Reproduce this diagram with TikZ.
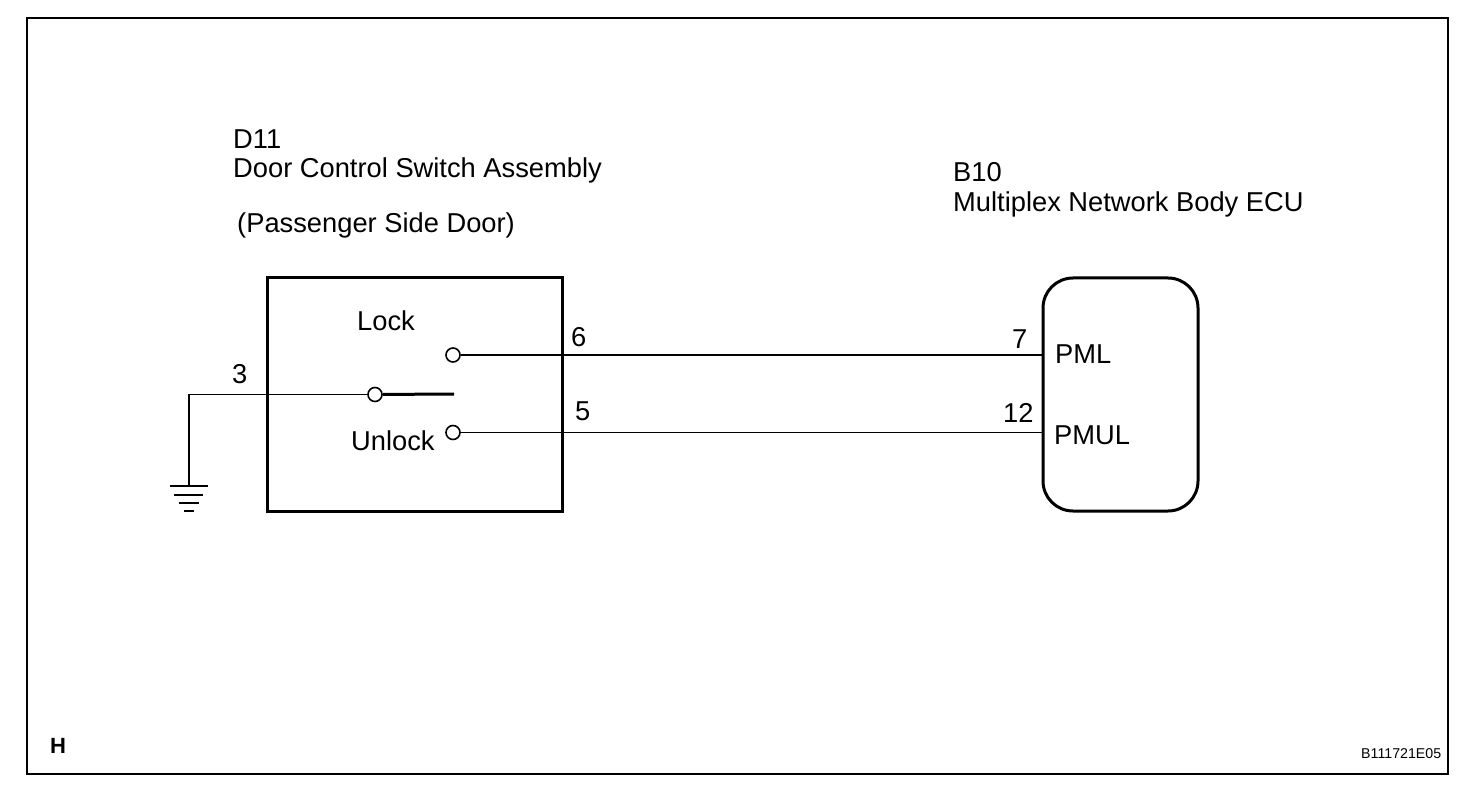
\documentclass[tikz,border=0pt]{standalone}
\usepackage{fontspec}
\setmainfont{Liberation Sans}
\tikzset{
  label/.style={anchor=base west,inner sep=0pt,font=\fontsize{27.3}{27.3}\selectfont},
  contact/.style={shape=circle,draw,fill=white,line width=1.6pt,inner sep=0pt,minimum size=14pt},
  wire/.style={line width=1.2pt},
  heavywire/.style={line width=2.2pt}
}
\begin{document}
\begin{tikzpicture}[x=1pt,y=-1pt]
\useasboundingbox (0,0) rectangle (1472,794);
\node(frame) at (737.5,396)[draw,line width=2.4pt,minimum width=1421pt,minimum height=756pt,inner sep=0pt]{};

\node(switch) at (415.4,394.5)[draw,line width=3pt,minimum width=295pt,minimum height=233pt,inner sep=0pt]{};
\node(ecu) at (1120.5,394.5)[draw,line width=3pt,rounded corners=30pt,minimum width=155pt,minimum height=233pt,inner sep=0pt]{};

\node(d11) at (233,148.6)[label]{D11};
\node(door) at (233,177.6)[label]{Door Control Switch Assembly};
\node(side) at (237,232.6)[label]{(Passenger Side Door)};
\node(b10) at (953,181.6)[label]{B10};
\node(body) at (953,211.6)[label]{Multiplex Network Body ECU};
\node(lock) at (357,330.5)[label]{Lock};
\node(unlock) at (351,450)[label]{Unlock};
\node(pin3) at (232,383)[label]{3};
\node(pin6) at (571,346)[label]{6};
\node(pin5) at (575,420)[label]{5};
\node(pin7) at (1012,348)[label]{7};
\node(pin12) at (1003,422)[label]{12};
\node(pml) at (1055,363.5)[label]{PML};
\node(pmul) at (1054,444.5)[label]{PMUL};
\node(corner) at (50,753)[label,font=\fontsize{22}{22}\selectfont\bfseries]{H};
\node(code) at (1361,758)[label,font=\fontsize{14.2}{14.2}\selectfont]{B111721E05};

\coordinate(gnd) at (189,486);
\coordinate(bend) at (189,394);
\coordinate(armend) at (454,394);
\coordinate(pmlpin) at (1043,355);
\coordinate(pmulpin) at (1043,432.5);

\node(common) at (375,394.5)[contact]{};
\node(upper) at (453,355)[contact]{};
\node(lower) at (453,432.5)[contact]{};

\draw[wire] (common) -- (common -| bend) -- (gnd);
\draw[line width=3pt] (common) -- (armend);
\path [heavywire]
  (upper)  edge  (pmlpin);
\path [wire]
  (lower)  edge  (pmulpin);

\coordinate(g1) at (170,486);
\coordinate(g1e) at (208,486);
\coordinate(g2) at (174,495);
\coordinate(g2e) at (203,495);
\coordinate(g3) at (179,503);
\coordinate(g3e) at (199,503);
\coordinate(g4) at (184,511);
\coordinate(g4e) at (194,511);
\draw[wire] (g1) -- (g1e);
\draw[wire] (g2) -- (g2e);
\draw[wire] (g3) -- (g3e);
\draw[line width=2pt] (g4) -- (g4e);
\end{tikzpicture}
\end{document}
